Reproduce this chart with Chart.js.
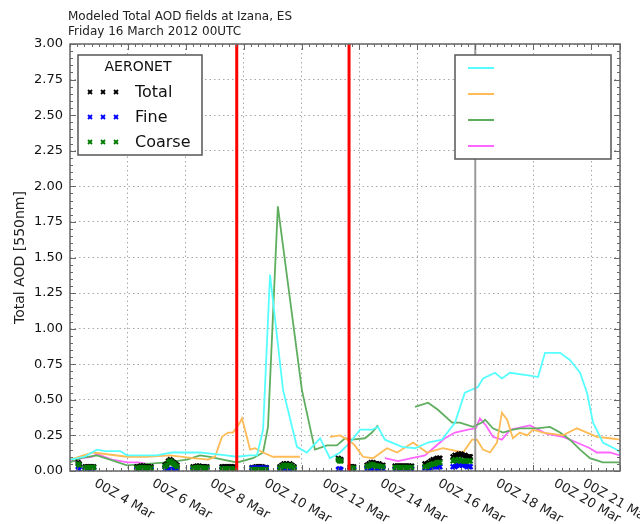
<!DOCTYPE html>
<html>
<head>
<meta charset="utf-8">
<script src="https://cdn.jsdelivr.net/npm/chart.js@4.4.1/dist/chart.umd.min.js"></script>
<style>
  html, body { margin: 0; padding: 0; background: #fff; }
  #wrap { width: 640px; height: 524px; }
</style>
</head>
<body>
<div id="wrap"><canvas id="aodChart" width="640" height="524"></canvas></div>
<script>
// x values are days of March 2012 (00Z = whole day)
const tickDays = [4, 6, 8, 10, 12, 14, 16, 18, 20, 21];
const tickLabels = ['00Z 4 Mar', '00Z 6 Mar', '00Z 8 Mar', '00Z 10 Mar', '00Z 12 Mar',
  '00Z 14 Mar', '00Z 16 Mar', '00Z 18 Mar', '00Z 20 Mar', '00Z 21 Mar'];
const forecastDay = 16;          // grey line, forecast start
const eventDays = [7.76, 11.64]; // red lines

// model lines (null = no data)
const cyanDay = [2.0, 2.5, 2.93, 3.2, 3.73, 3.97, 4.5, 5.0, 5.5, 6.04, 6.5, 6.94, 7.4, 7.77, 8.2, 8.46, 8.67, 8.91,
  9.36, 9.84, 10.18, 10.64, 10.98, 11.33, 11.67, 12.02, 12.43, 12.64, 12.88, 13.47, 13.92, 14.37, 14.85, 15.3,
  15.64, 16.09, 16.27, 16.68, 16.92, 17.2, 17.89, 18.17, 18.41, 18.93, 19.27, 19.62, 19.86, 20.07, 20.41, 20.89, 21.0];
const cyanAod = [0.08, 0.10, 0.15, 0.14, 0.14, 0.11, 0.11, 0.11, 0.13, 0.13, 0.13, 0.12, 0.11, 0.10, 0.11, 0.11, 0.29, 1.38,
  0.57, 0.17, 0.13, 0.23, 0.09, 0.13, 0.20, 0.29, 0.29, 0.31, 0.22, 0.17, 0.16, 0.20, 0.22, 0.34,
  0.55, 0.59, 0.65, 0.69, 0.65, 0.69, 0.67, 0.66, 0.83, 0.83, 0.78, 0.69, 0.55, 0.34, 0.20, 0.15, 0.13];

const orangeDay = [2.0, 2.79, 3.97, 4.66, 5.45, 6.25, 6.77, 7.01, 7.25, 7.46, 7.63, 7.87, 7.94, 8.11, 8.22, 8.39, 8.67,
  9.01, 9.94, 10.45, 10.98, 11.33, 11.67, 11.84, 12.12, 12.47, 12.95, 13.3, 13.85, 14.33, 14.88, 15.58, 15.89,
  16.06, 16.27, 16.51, 16.75, 16.92, 17.1, 17.3, 17.54, 17.79, 17.99, 18.34, 19.03, 19.51, 19.86, 20.2, 20.65, 21.0];
const orangeAod = [0.08, 0.13, 0.10, 0.10, 0.11, 0.09, 0.08, 0.10, 0.24, 0.27, 0.27, 0.34, 0.37, 0.24, 0.15, 0.16, 0.13,
  0.10, 0.10, null, 0.24, 0.25, 0.21, 0.18, 0.10, 0.09, 0.16, 0.13, 0.20, 0.13, 0.16, 0.13, 0.22,
  0.22, 0.15, 0.13, 0.20, 0.41, 0.36, 0.23, 0.27, 0.25, 0.29, 0.27, 0.25, 0.30, 0.27, 0.24, 0.23, 0.22];

const greenDay = [2.0, 2.35, 2.93, 3.38, 3.97, 4.66, 5.35, 6.04, 6.49, 6.84, 7.28, 7.77, 8.32, 8.67, 8.84, 9.18,
  10.01, 10.46, 10.88, 11.22, 11.5, 11.74, 12.19, 12.43, 12.64, 13.3, 13.92, 14.37, 14.71, 15.2, 15.47, 15.92,
  16.23, 16.34, 16.61, 16.96, 17.3, 17.54, 18.13, 18.58, 18.93, 19.27, 19.62, 19.96, 20.41, 21.0];
const greenAod = [0.06, 0.09, 0.11, 0.08, 0.04, 0.05, 0.06, 0.08, 0.11, 0.10, 0.08, 0.06, 0.09, 0.13, 0.31, 1.86,
  0.57, 0.15, 0.18, 0.18, 0.23, 0.22, 0.23, 0.27, 0.32, null, 0.45, 0.48, 0.43, 0.34, 0.34, 0.31,
  0.34, 0.36, 0.30, 0.27, 0.29, 0.30, 0.30, 0.31, 0.27, 0.22, 0.15, 0.09, 0.06, 0.06];

const magentaDay = [2.0, 2.17, 2.41, 2.76, 2.93, 3.45, 4.0, 4.35, 4.69, 8.5, 12.88, 13.33, 13.81, 14.26, 14.61,
  14.95, 15.3, 15.75, 16.02, 16.16, 16.37, 16.61, 16.92, 17.2, 17.65, 17.89, 18.48, 19.03, 19.51, 19.96, 20.2,
  20.65, 21.0];
const magentaAod = [0.08, 0.07, 0.09, 0.10, 0.12, 0.08, 0.06, 0.06, 0.05, null, 0.09, 0.07, 0.09, 0.11, 0.17,
  0.23, 0.27, 0.29, 0.30, 0.37, 0.32, 0.24, 0.22, 0.29, 0.31, 0.32, 0.26, 0.24, 0.20, 0.16, 0.13,
  0.13, 0.11];

// AERONET observations
const aeroDay = [
  2.28, 2.32, 2.52, 2.58, 2.64, 2.70, 2.76, 2.82,
  4.31, 4.38, 4.45, 4.52, 4.59, 4.66, 4.73, 4.80,
  5.28, 5.34, 5.40, 5.46, 5.52, 5.58, 5.64, 5.70,
  6.25, 6.32, 6.39, 6.46, 6.53, 6.60, 6.67, 6.73,
  7.25, 7.31, 7.37, 7.43, 7.49, 7.55, 7.61, 7.68,
  8.29, 8.36, 8.43, 8.50, 8.57, 8.64, 8.71, 8.78,
  9.25, 9.32, 9.39, 9.46, 9.53, 9.60, 9.67, 9.74,
  11.27, 11.31, 11.36, 11.68, 11.74, 11.80,
  12.26, 12.33, 12.40, 12.47, 12.54, 12.61, 12.68, 12.75, 12.81,
  13.23, 13.30, 13.37, 13.44, 13.51, 13.58, 13.65, 13.72, 13.80,
  14.26, 14.33, 14.40, 14.47, 14.54, 14.61, 14.68, 14.74, 14.78,
  15.23, 15.30, 15.37, 15.44, 15.51, 15.58, 15.65, 15.72, 15.79, 15.83];
const aeroTotal = [
  0.06, 0.05, 0.03, 0.03, 0.03, 0.03, 0.03, 0.03,
  0.03, 0.03, 0.035, 0.035, 0.03, 0.03, 0.03, 0.03,
  0.04, 0.05, 0.07, 0.08, 0.07, 0.06, 0.05, 0.04,
  0.03, 0.03, 0.035, 0.035, 0.03, 0.03, 0.03, 0.03,
  0.03, 0.03, 0.03, 0.03, 0.03, 0.03, 0.03, 0.03,
  0.025, 0.025, 0.03, 0.03, 0.03, 0.03, 0.025, 0.025,
  0.03, 0.04, 0.05, 0.05, 0.04, 0.05, 0.04, 0.03,
  0.09, 0.08, 0.08, 0.03, 0.03, 0.03,
  0.04, 0.05, 0.06, 0.06, 0.05, 0.05, 0.05, 0.04, 0.04,
  0.035, 0.035, 0.035, 0.035, 0.035, 0.035, 0.035, 0.035, 0.035,
  0.05, 0.05, 0.06, 0.07, 0.08, 0.08, 0.09, 0.09, 0.09,
  0.10, 0.11, 0.11, 0.12, 0.12, 0.11, 0.11, 0.10, 0.10, 0.10];
const aeroFine = [
  0.01, 0.01, 0.01, 0.005, 0.005, 0.005, 0.005, 0.005,
  0.01, 0.01, 0.01, 0.01, 0.01, 0.01, 0.01, 0.01,
  0.01, 0.01, 0.01, 0.01, 0.01, 0.01, 0.01, 0.01,
  0.01, 0.01, 0.01, 0.01, 0.01, 0.01, 0.01, 0.01,
  0.015, 0.015, 0.015, 0.015, 0.015, 0.015, 0.015, 0.015,
  0.02, 0.02, 0.02, 0.02, 0.02, 0.02, 0.02, 0.02,
  0.01, 0.01, 0.01, 0.01, 0.01, 0.01, 0.01, 0.01,
  0.01, 0.015, 0.01, 0.01, 0.01, 0.01,
  0.015, 0.015, 0.015, 0.015, 0.015, 0.015, 0.015, 0.015, 0.015,
  0.01, 0.01, 0.01, 0.01, 0.01, 0.01, 0.01, 0.01, 0.01,
  0.02, 0.02, 0.02, 0.025, 0.03, 0.03, 0.03, 0.03, 0.03,
  0.03, 0.03, 0.04, 0.04, 0.05, 0.04, 0.04, 0.03, 0.03, 0.03];
const aeroCoarse = [
  0.05, 0.04, 0.02, 0.025, 0.025, 0.025, 0.025, 0.025,
  0.02, 0.02, 0.025, 0.025, 0.02, 0.02, 0.02, 0.02,
  0.03, 0.04, 0.06, 0.07, 0.06, 0.05, 0.04, 0.03,
  0.02, 0.02, 0.025, 0.025, 0.02, 0.02, 0.02, 0.02,
  0.015, 0.015, 0.015, 0.015, 0.015, 0.015, 0.015, 0.015,
  0.01, 0.01, 0.01, 0.01, 0.01, 0.01, 0.01, 0.01,
  0.02, 0.03, 0.04, 0.04, 0.03, 0.04, 0.03, 0.02,
  0.08, 0.07, 0.07, 0.02, 0.02, 0.02,
  0.03, 0.035, 0.045, 0.045, 0.035, 0.035, 0.035, 0.03, 0.03,
  0.025, 0.025, 0.025, 0.025, 0.025, 0.025, 0.025, 0.025, 0.025,
  0.03, 0.03, 0.04, 0.045, 0.05, 0.05, 0.06, 0.06, 0.06,
  0.07, 0.08, 0.07, 0.08, 0.07, 0.07, 0.07, 0.07, 0.07, 0.07];

const modelColors = ['#55ffff', '#ffbb55', '#5fae5f', '#ff66ff'];
const obsColors = ['#000000', '#0000ff', '#007a00'];
const FONT = '"DejaVu Sans", Verdana, sans-serif';

const toPoints = (xs, ys) => xs.map((d, i) => ({ x: d, y: ys[i] }));

function modelLine(xs, ys, color) {
  return {
    type: 'line', data: toPoints(xs, ys), borderColor: color, backgroundColor: color,
    borderWidth: 1.8, pointRadius: 0, tension: 0, spanGaps: false, order: 10
  };
}
function obsSeries(ys, color, order) {
  return {
    type: 'scatter', data: toPoints(aeroDay, ys), borderColor: color, backgroundColor: color,
    pointStyle: 'crossRot', pointRadius: 3.2, borderWidth: 2.2, order: order
  };
}

function drawLine(ctx, x1, y1, x2, y2) {
  ctx.beginPath(); ctx.moveTo(x1, y1); ctx.lineTo(x2, y2); ctx.stroke();
}

const overlay = {
  id: 'overlay',
  afterDatasetsDraw(chart) {
    const { ctx, chartArea: a, scales: { x } } = chart;
    ctx.save();
    ctx.strokeStyle = '#9a9a9a'; ctx.lineWidth = 2;
    const xf = x.getPixelForValue(forecastDay);
    drawLine(ctx, xf, a.top, xf, a.bottom);
    ctx.strokeStyle = '#ff0000'; ctx.lineWidth = 3;
    eventDays.forEach(d => {
      const px = x.getPixelForValue(d);
      drawLine(ctx, px, a.top, px, a.bottom);
    });
    ctx.restore();
  },
  afterDraw(chart) {
    const { ctx, chartArea: a, scales: { x, y } } = chart;
    ctx.save();

    // frame with inward ticks on all sides
    ctx.strokeStyle = '#666'; ctx.lineWidth = 1.5;
    ctx.strokeRect(a.left, a.top, a.right - a.left, a.bottom - a.top);
    ctx.lineWidth = 1;
    for (let d = x.min; d <= x.max + 1e-6; d += 0.25) {
      const px = Math.round(x.getPixelForValue(d)) + 0.5;
      const len = tickDays.includes(d) ? 6 : 3;
      drawLine(ctx, px, a.bottom, px, a.bottom - len);
      drawLine(ctx, px, a.top, px, a.top + len);
    }
    for (let k = 0; k <= 60; k++) {
      const v = k * 0.05;
      const py = Math.round(y.getPixelForValue(v)) + 0.5;
      const len = k % 5 === 0 ? 6 : 3;
      drawLine(ctx, a.left, py, a.left + len, py);
      drawLine(ctx, a.right, py, a.right - len, py);
    }

    // rotated x tick labels
    ctx.fillStyle = '#222';
    ctx.font = '13px ' + FONT;
    ctx.textAlign = 'center'; ctx.textBaseline = 'middle';
    const ang = 30 * Math.PI / 180;
    tickDays.forEach((d, i) => {
      const w = ctx.measureText(tickLabels[i]).width;
      const bh = w * Math.sin(ang) + 13 * Math.cos(ang);
      ctx.save();
      ctx.translate(x.getPixelForValue(d) - 4, a.bottom + 6 + bh / 2);
      ctx.rotate(ang);
      ctx.fillText(tickLabels[i], 0, 0);
      ctx.restore();
    });

    // y axis title
    ctx.save();
    ctx.font = '14px ' + FONT;
    ctx.translate(20, (a.top + a.bottom) / 2);
    ctx.rotate(-Math.PI / 2);
    ctx.fillText('Total AOD [550nm]', 0, 0);
    ctx.restore();

    // chart title
    ctx.textAlign = 'left';
    ctx.font = '12px ' + FONT;
    ctx.fillText('Modeled Total AOD fields at Izana, ES', 68, 17);
    ctx.fillText('Friday 16 March 2012 00UTC', 68, 32);

    // AERONET legend box
    ctx.fillStyle = '#fff'; ctx.strokeStyle = '#555'; ctx.lineWidth = 1.5;
    ctx.fillRect(78, 55, 124, 100); ctx.strokeRect(78, 55, 124, 100);
    ctx.fillStyle = '#111'; ctx.textAlign = 'center';
    ctx.font = '14px ' + FONT;
    ctx.fillText('AERONET', 138, 67);
    ctx.textAlign = 'left'; ctx.font = '16px ' + FONT;
    const obsNames = ['Total', 'Fine', 'Coarse'];
    obsNames.forEach((nm, i) => {
      const cy = 92 + i * 25;
      ctx.strokeStyle = obsColors[i]; ctx.lineWidth = 1.8;
      [90, 103, 116].forEach(mx => {
        drawLine(ctx, mx - 2, cy - 2, mx + 2, cy + 2);
        drawLine(ctx, mx - 2, cy + 2, mx + 2, cy - 2);
      });
      ctx.fillStyle = '#111';
      ctx.fillText(nm, 135, cy + 1);
    });

    // model legend box (lines only)
    ctx.fillStyle = '#fff'; ctx.strokeStyle = '#555'; ctx.lineWidth = 1.5;
    ctx.fillRect(455, 55, 156, 104); ctx.strokeRect(455, 55, 156, 104);
    ctx.lineWidth = 2;
    modelColors.forEach((c, i) => {
      const cy = 68 + i * 26;
      ctx.strokeStyle = c;
      drawLine(ctx, 468, cy, 494, cy);
    });
    ctx.restore();
  }
};

new Chart(document.getElementById('aodChart'), {
  data: {
    datasets: [
      modelLine(cyanDay, cyanAod, modelColors[0]),
      modelLine(orangeDay, orangeAod, modelColors[1]),
      modelLine(greenDay, greenAod, modelColors[2]),
      modelLine(magentaDay, magentaAod, modelColors[3]),
      obsSeries(aeroTotal, obsColors[0], 3),
      obsSeries(aeroFine, obsColors[1], 2),
      obsSeries(aeroCoarse, obsColors[2], 1)
    ]
  },
  options: {
    responsive: false,
    animation: false,
    devicePixelRatio: 1,
    layout: { padding: { top: 44, right: 20, left: 0, bottom: 0 } },
    plugins: { legend: { display: false }, tooltip: { enabled: false }, title: { display: false } },
    scales: {
      x: {
        type: 'linear', min: 2, max: 21,
        afterBuildTicks: s => { s.ticks = tickDays.map(v => ({ value: v })); },
        afterFit: s => { s.height = 53; },
        ticks: { display: false },
        grid: { color: '#a8a8a8', lineWidth: 1, drawTicks: false },
        border: { display: false, dash: [1.5, 3] }
      },
      y: {
        type: 'linear', min: 0, max: 3,
        afterFit: s => { s.width = 70; },
        ticks: {
          stepSize: 0.25, padding: 7, color: '#111',
          font: { family: FONT, size: 13 },
          callback: v => v.toFixed(2)
        },
        grid: { color: '#a8a8a8', lineWidth: 1, drawTicks: false },
        border: { display: false, dash: [1.5, 3] }
      }
    }
  },
  plugins: [overlay]
});
</script>
</body>
</html>
